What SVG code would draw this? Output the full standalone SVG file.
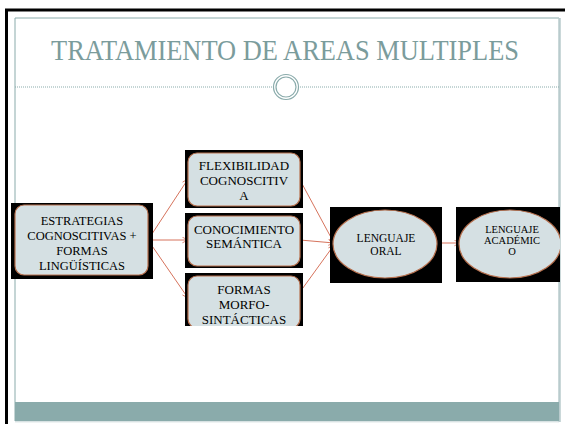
<svg xmlns="http://www.w3.org/2000/svg" width="565" height="424" viewBox="0 0 565 424">
<defs>
<marker id="arr" viewBox="0 0 10 10" refX="9" refY="5" markerWidth="7" markerHeight="7" orient="auto" markerUnits="userSpaceOnUse">
<path d="M1,1 L9,5 L1,9" fill="none" stroke="#d6735c" stroke-width="1.2"/>
</marker>
<clipPath id="cTop"><rect x="185" y="150" width="118" height="58"/></clipPath>
<clipPath id="cBot"><rect x="185" y="273" width="118" height="53"/></clipPath>
<clipPath id="cAcad"><rect x="456" y="207" width="104" height="75"/></clipPath>
</defs>
<style>
.bg{fill:#000}
.box{fill:#d5e0e3;stroke:#b8714f;stroke-width:1.2}
.t{font-family:"Liberation Serif","Times New Roman",serif;fill:#000;text-anchor:middle}
.ttl{font-family:"Liberation Serif","Times New Roman",serif;fill:#7b9c9c;text-anchor:middle}
.edge{stroke:#d6735c;stroke-width:1;fill:none;marker-end:url(#arr)}
</style>
<rect width="565" height="424" fill="#fff"/>
<path d="M6.5,424 V10 H565" fill="none" stroke="#000" stroke-width="3"/>
<path d="M15,421 V18 H559" fill="none" stroke="#8aabab" stroke-width="1"/>
<line x1="559.5" y1="18" x2="559.5" y2="422" stroke="#b9cbcd" stroke-width="2.5"/>
<rect x="15" y="402" width="544" height="19" fill="#8aabab"/>
<line x1="15" y1="421.8" x2="559" y2="421.8" stroke="#c8d6d8" stroke-width="1"/>
<text class="ttl" x="285" y="60" font-size="29" textLength="468" lengthAdjust="spacingAndGlyphs">TRATAMIENTO DE AREAS MULTIPLES</text>
<line x1="15" y1="87" x2="272" y2="87" stroke="#8aabab" stroke-width="1" stroke-dasharray="1,1"/>
<line x1="300" y1="87" x2="559" y2="87" stroke="#8aabab" stroke-width="1" stroke-dasharray="1,1"/>
<circle cx="286" cy="87" r="12.5" fill="#fff" stroke="#8aabab" stroke-width="1.2"/>
<circle cx="286" cy="87" r="10" fill="none" stroke="#8aabab" stroke-width="1.2"/>
<g id="connectors">
<line class="edge" x1="148" y1="240" x2="188" y2="179"/>
<line class="edge" x1="148" y1="240" x2="188" y2="240"/>
<line class="edge" x1="148" y1="240" x2="188" y2="298"/>
<line class="edge" x1="300" y1="180" x2="334" y2="243"/>
<line class="edge" x1="300" y1="240" x2="334" y2="243"/>
<line class="edge" x1="300" y1="292" x2="334" y2="245"/>
<line class="edge" x1="437" y1="243" x2="460" y2="243"/>
</g>
<g id="n-estrategias">
<rect class="bg" x="11" y="203" width="142" height="76"/>
<rect class="box" x="15" y="205" width="133" height="70" rx="9"/>
<text class="t" font-size="12.5"><tspan x="82" y="225">ESTRATEGIAS</tspan><tspan x="82" y="240">COGNOSCITIVAS +</tspan><tspan x="82" y="255">FORMAS</tspan><tspan x="82" y="270">LINGÜÍSTICAS</tspan></text>
</g>
<g id="n-flexibilidad">
<rect class="bg" x="185" y="150" width="118" height="58"/>
<g clip-path="url(#cTop)">
<rect class="box" x="188" y="153" width="112" height="53" rx="9"/>
<text class="t" font-size="13"><tspan x="244" y="170">FLEXIBILIDAD</tspan><tspan x="244" y="185">COGNOSCITIV</tspan><tspan x="244" y="200">A</tspan></text>
</g>
</g>
<g id="n-conocimiento">
<rect class="bg" x="185" y="213" width="118" height="55"/>
<rect class="box" x="188" y="216" width="112" height="50" rx="9"/>
<text class="t" font-size="13"><tspan x="244" y="234">CONOCIMIENTO</tspan><tspan x="244" y="248">SEMÁNTICA</tspan></text>
</g>
<g id="n-formas">
<rect class="bg" x="185" y="273" width="118" height="53"/>
<g clip-path="url(#cBot)">
<rect class="box" x="188" y="276" width="112" height="52" rx="9"/>
<text class="t" font-size="13"><tspan x="244" y="294">FORMAS</tspan><tspan x="244" y="309">MORFO-</tspan><tspan x="244" y="324">SINTÁCTICAS</tspan></text>
</g>
</g>
<g id="n-oral">
<rect class="bg" x="330" y="207" width="112" height="76"/>
<ellipse class="box" cx="385" cy="244" rx="52" ry="34"/>
<text class="t" font-size="11.5"><tspan x="386" y="242">LENGUAJE</tspan><tspan x="386" y="255">ORAL</tspan></text>
</g>
<g id="n-academico">
<rect class="bg" x="456" y="207" width="104" height="75"/>
<g clip-path="url(#cAcad)">
<ellipse class="box" cx="510" cy="244" rx="51" ry="34"/>
</g>
<text class="t" font-size="10.5"><tspan x="512" y="233">LENGUAJE</tspan><tspan x="512" y="244">ACADÉMIC</tspan><tspan x="512" y="255">O</tspan></text>
</g>
</svg>
